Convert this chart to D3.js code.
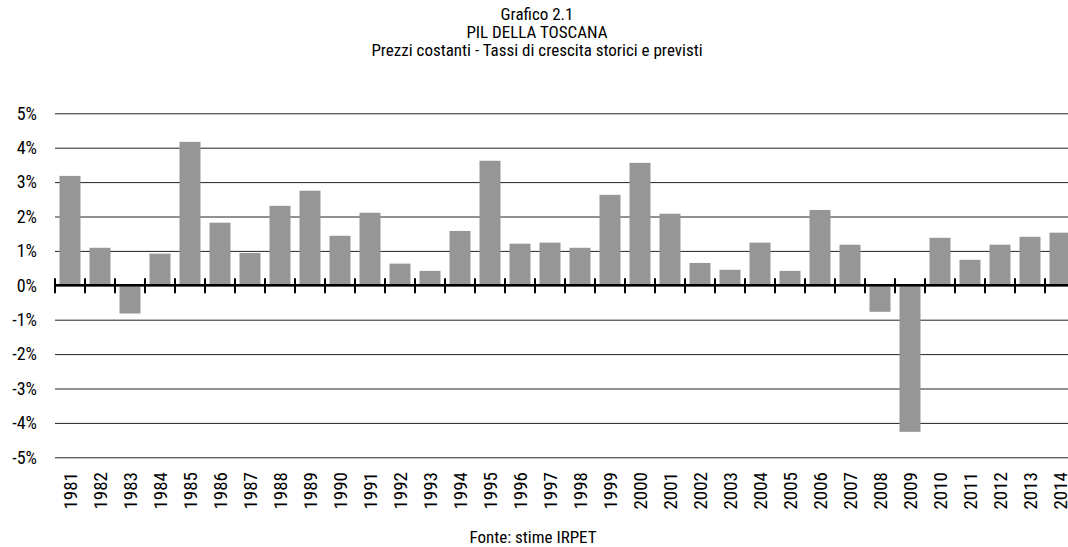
<!DOCTYPE html>
<meta charset="utf-8">
<script src="https://d3js.org/d3.v7.min.js"></script>
<style>
  body { margin: 0; background: #fff; }
  text { font-family: 'Liberation Sans Narrow', 'Arial Narrow', 'Roboto Condensed', 'DejaVu Sans Condensed', sans-serif; fill: #000; }
</style>
<div id="chart"></div>
<script>
// data
var years = [1981,1982,1983,1984,1985,1986,1987,1988,1989,1990,1991,1992,1993,1994,1995,1996,1997,
             1998,1999,2000,2001,2002,2003,2004,2005,2006,2007,2008,2009,2010,2011,2012,2013,2014];
var growth = [3.18,1.09,-0.82,0.92,4.17,1.82,0.94,2.31,2.75,1.44,2.11,0.63,0.42,1.58,3.62,1.21,1.24,
              1.09,2.63,3.56,2.08,0.65,0.45,1.24,0.42,2.19,1.18,-0.77,-4.26,1.38,0.74,1.18,1.41,1.53];
var yTicks = [-5,-4,-3,-2,-1,0,1,2,3,4,5];
var titleLines = ["Grafico 2.1", "PIL DELLA TOSCANA", "Prezzi costanti - Tassi di crescita storici e previsti"];
var source = "Fonte: stime IRPET";

var W = 1068, H = 547;
var plotLeft = 55, plotTop = 113.3, plotBottom = 457.3;
var plotRight = plotLeft + years.length * 30;

var svg = d3.select("#chart").append("svg")
    .attr("width", W).attr("height", H);

// scales
var x = d3.scaleBand()
    .domain(years)
    .range([plotLeft, plotRight])
    .paddingInner(0.3)
    .paddingOuter(0.15);

var y = d3.scaleLinear()
    .domain([-5, 5])
    .range([plotBottom, plotTop]);

// title
svg.append("g").selectAll("text")
  .data(titleLines)
  .enter().append("text")
    .attr("x", 537)
    .attr("y", function(d, i) { return 20 + i * 18; })
    .attr("text-anchor", "middle")
    .style("font-size", "17px")
    .text(function(d) { return d; });

// gridlines + y labels
var yAxis = svg.append("g")
    .attr("transform", "translate(" + plotLeft + ",0)")
    .call(d3.axisLeft(y).tickValues(yTicks).tickSize(-(W - plotLeft)).tickPadding(18)
          .tickFormat(function(d) { return d + "%"; }));
yAxis.select(".domain").remove();
yAxis.selectAll(".tick line").attr("stroke", "#222").attr("stroke-width", 1);
yAxis.selectAll(".tick text").style("font-size", "18px").attr("fill", "#000");

// bars
var yearValues = years.map(function(d, i) { return {year: d, value: growth[i]}; });
svg.append("g").selectAll("rect")
  .data(yearValues)
  .enter().append("rect")
    .attr("x", function(d) { return x(d.year); })
    .attr("width", x.bandwidth())
    .attr("y", function(d) { return y(Math.max(0, d.value)); })
    .attr("height", function(d) { return Math.abs(y(d.value) - y(0)); })
    .attr("fill", "#969696");

// zero axis with category ticks
var half = x.step() * x.paddingInner() / 2;
svg.append("line")
    .attr("x1", plotLeft).attr("x2", W)
    .attr("y1", y(0)).attr("y2", y(0))
    .attr("stroke", "#000").attr("stroke-width", 2.5);
var tickPos = years.map(function(d) { return x(d) - half; }).concat([plotRight]);
svg.append("g").selectAll("line")
  .data(tickPos)
  .enter().append("line")
    .attr("x1", function(d) { return d; }).attr("x2", function(d) { return d; })
    .attr("y1", y(0) - 7).attr("y2", y(0) + 8)
    .attr("stroke", "#000").attr("stroke-width", 2);

// x labels
var xAxis = svg.append("g")
    .attr("transform", "translate(0," + 472 + ")")
    .call(d3.axisBottom(x).tickSize(0).tickPadding(0));
xAxis.select(".domain").remove();
xAxis.selectAll(".tick text")
    .style("font-size", "19px")
    .attr("fill", "#000")
    .attr("y", 0).attr("dy", "0.35em")
    .attr("transform", "rotate(-90)")
    .attr("text-anchor", "end");

// source
svg.append("text")
    .attr("x", 533).attr("y", 543)
    .attr("text-anchor", "middle")
    .style("font-size", "17px")
    .text(source);
</script>
